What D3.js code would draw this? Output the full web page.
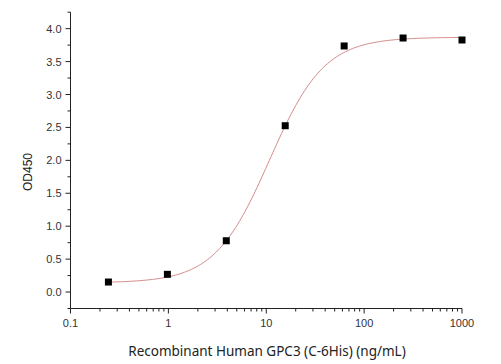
<!DOCTYPE html>
<html><head><meta charset="utf-8">
<script src="https://cdn.jsdelivr.net/npm/d3@7"></script>
<style>body{margin:0;background:#fff}svg{display:block}</style>
</head><body>
<svg id="c" width="501" height="364"></svg>
<script>
// Data
const concentrations = [0.244, 0.977, 3.906, 15.625, 62.5, 250, 1000];
const od450 = [0.152, 0.269, 0.779, 2.526, 3.737, 3.858, 3.828];
// 4PL fit parameters (estimated from the fitted curve in the picture)
const fitBottom = 0.14, fitTop = 3.87, fitEC50 = 10.8, fitHill = 1.55;
const xTickValues = [0.1, 1, 10, 100, 1000];
const yTickValues = [0, 0.5, 1, 1.5, 2, 2.5, 3, 3.5, 4];
const xTitle = "Recombinant Human GPC3 (C-6His) (ng/mL)";
const yTitle = "OD450";

const svg = d3.select("#c");
const x = d3.scaleLog().domain([0.1, 1000]).range([70.5, 462]);
const y = d3.scaleLinear().domain([-0.25, 4.25]).range([308.5, 12.2]);

const axisColor = "#222", textColor = "#333";

// minor ticks x
const xMinor = [];
for (let d = 0.1; d < 1000; d *= 10) for (let k = 2; k <= 9; k++) xMinor.push(d * k);
const gx = svg.append("g").attr("transform", `translate(0,${y.range()[0]})`);
gx.append("line").attr("x1", x.range()[0]).attr("x2", x.range()[1]).attr("stroke", axisColor);
gx.selectAll(".mn").data(xMinor).join("line").attr("x1", d => x(d)).attr("x2", d => x(d))
  .attr("y1", 0).attr("y2", 3).attr("stroke", axisColor);
gx.selectAll(".mj").data(xTickValues).join("line").attr("x1", d => x(d)).attr("x2", d => x(d))
  .attr("y1", 0).attr("y2", 5).attr("stroke", axisColor);
gx.selectAll("text").data(xTickValues).join("text").attr("x", d => x(d)).attr("y", 18)
  .attr("text-anchor", "middle").attr("font-family", "Liberation Sans, Arial, sans-serif")
  .attr("font-size", 11).attr("fill", textColor).text(d => String(d));

// y axis
const yMinor = d3.range(-0.25, 4.26, 0.5);
const gy = svg.append("g").attr("transform", `translate(${x.range()[0]},0)`);
gy.append("line").attr("y1", y.range()[0]).attr("y2", y.range()[1]).attr("stroke", axisColor);
gy.selectAll(".mn").data(yMinor).join("line").attr("y1", d => y(d)).attr("y2", d => y(d))
  .attr("x1", 0).attr("x2", -3).attr("stroke", axisColor);
gy.selectAll(".mj").data(yTickValues).join("line").attr("y1", d => y(d)).attr("y2", d => y(d))
  .attr("x1", 0).attr("x2", -5).attr("stroke", axisColor);
gy.selectAll("text").data(yTickValues).join("text").attr("x", -9).attr("y", d => y(d) + 4)
  .attr("text-anchor", "end").attr("font-family", "Liberation Sans, Arial, sans-serif")
  .attr("font-size", 11).attr("fill", textColor).text(d => d.toFixed(1));

// titles
svg.append("text").attr("x", 267).attr("y", 356).attr("text-anchor", "middle")
  .attr("font-family", "Noto Sans, Open Sans, sans-serif").attr("font-size", 13.5)
  .attr("fill", "#222").text(xTitle);
svg.append("text").attr("transform", "translate(32,172) rotate(-90)").attr("text-anchor", "middle")
  .attr("font-family", "Liberation Sans, Arial, sans-serif").attr("font-size", 12)
  .attr("fill", "#222").text(yTitle);

// fitted curve
const fit = c => fitBottom + (fitTop - fitBottom) / (1 + Math.pow(fitEC50 / c, fitHill));
const lo = Math.log10(concentrations[0]), hi = Math.log10(concentrations[concentrations.length - 1]);
const curve = d3.range(0, 201).map(i => Math.pow(10, lo + (hi - lo) * i / 200));
svg.append("path").datum(curve).attr("fill", "none").attr("stroke", "#d48a8a").attr("stroke-width", 1)
  .attr("d", d3.line().x(d => x(d)).y(d => y(fit(d))));

// points
const s = 7;
svg.selectAll(".pt").data(concentrations.map((c, i) => [c, od450[i]])).join("rect")
  .attr("x", d => x(d[0]) - s / 2).attr("y", d => y(d[1]) - s / 2)
  .attr("width", s).attr("height", s).attr("fill", "#000");
</script>
</body></html>
